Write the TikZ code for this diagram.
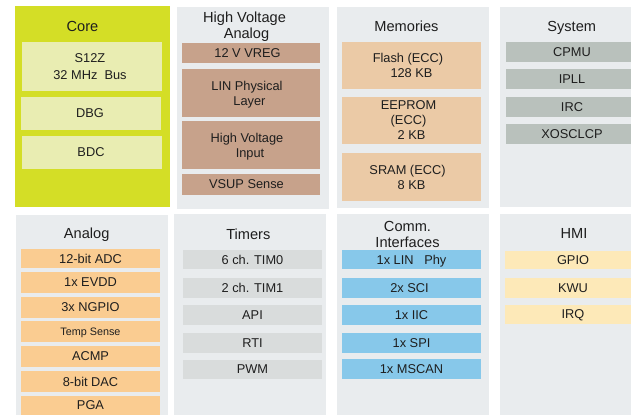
\documentclass[tikz,border=0pt]{standalone}
\usepackage{fontspec}
\setmainfont{Liberation Sans}
\definecolor{limec}{HTML}{D4DE26}
\definecolor{limebox}{HTML}{E9EDB2}
\definecolor{panelg}{HTML}{E9ECEE}
\definecolor{hvbox}{HTML}{C7A28B}
\definecolor{membox}{HTML}{EBCAA6}
\definecolor{sysbox}{HTML}{B9C1BC}
\definecolor{anabox}{HTML}{FACC91}
\definecolor{timbox}{HTML}{D9DCDC}
\definecolor{combox}{HTML}{87C8EA}
\definecolor{hmibox}{HTML}{FDE9B8}
\definecolor{txt}{HTML}{1E1E1E}
\newcommand\bx[7]{\node[#6,minimum width=#4pt-#2pt,minimum height=#5pt-#3pt] (#1) at ({(#2+#4)/2},{(#3+#5)/2}) {#7};}
\newcommand\lft[2]{\mbox{#2\hspace{#1pt}}}
\begin{document}
\begin{tikzpicture}[x=1pt,y=-1pt,
  every node/.style={inner sep=0pt,outer sep=0pt,text=txt,align=center,text depth=0pt},
  panel/.style={fill=panelg,draw=none},
  corepanel/.style={fill=limec,draw=none},
  ttl/.style={font=\fontsize{14.6}{16}\selectfont},
  btxt/.style={font=\fontsize{12.8}{15}\selectfont},
  corebox/.style={btxt,fill=limebox},
  hvb/.style={btxt,fill=hvbox},
  memb/.style={btxt,fill=membox},
  sysb/.style={btxt,fill=sysbox},
  anab/.style={btxt,fill=anabox},
  timb/.style={btxt,fill=timbox},
  comb/.style={btxt,fill=combox},
  hmib/.style={btxt,fill=hmibox}]
\useasboundingbox (0,0) rectangle (631,415);
\fill[white] (0,0) rectangle (631,415);
% panels
\bx{pcore}{15}{6}{170}{207}{corepanel}{}
\bx{phv}{177}{7}{329}{209}{panel}{}
\bx{pmem}{337}{7}{489}{208}{panel}{}
\bx{psys}{500}{7}{645}{207}{panel}{}
\bx{pana}{16}{215}{168}{415}{panel}{}
\bx{ptim}{174}{214}{326}{415}{panel}{}
\bx{pcom}{337}{214}{489}{415}{panel}{}
\bx{phmi}{500}{214}{645}{415}{panel}{}
% titles
\node[ttl] (tcore) at (82.5,26) {Core};
\node[ttl] (thv) at (246.5,25) {\lft{4}{High Voltage}\\Analog};
\node[ttl] (tmem) at (406.5,26) {Memories};
\node[ttl] (tsys) at (571.7,26) {System};
\node[ttl] (tana) at (86.7,233) {Analog};
\node[ttl] (ttim) at (248.3,234) {Timers};
\node[ttl] (tcom) at (407.5,234) {Comm.\\Interfaces};
\node[ttl] (thmi) at (574,233) {HMI};
% core
\bx{s12z}{22}{42}{162}{91}{corebox}{\lft{4}{S12Z}\\[2pt]\lft{4}{32 MHz\ \ Bus}}
\bx{dbg}{21}{97}{161}{130}{corebox}{\lft{2}{DBG}}
\bx{bdc}{22}{136}{162}{169}{corebox}{\lft{2}{BDC}}
% high voltage analog
\bx{vreg}{182}{43}{320}{63}{hvb}{\lft{7}{12 V VREG}}
\bx{linpl}{182}{69}{320}{117}{hvb}{\lft{8}{LIN Physical}\\\lft{3}{Layer}}
\bx{hvin}{182}{121}{320}{169}{hvb}{\lft{8}{High Voltage}\\\lft{2}{Input}}
\bx{vsup}{182}{174}{320}{195}{hvb}{\lft{9}{VSUP Sense}}
% memories
\bx{flash}{342}{42}{481}{89}{memb}{\lft{7}{Flash (ECC)}\\128 KB}
\bx{eeprom}{342}{97}{481}{144}{memb}{\lft{6}{EEPROM}\\\lft{6}{(ECC)}\\2 KB}
\bx{sram}{342}{153}{481}{201}{memb}{\lft{8}{SRAM (ECC)}\\8 KB}
% system
\bx{cpmu}{506}{42}{638}{62}{sysb}{CPMU}
\bx{ipll}{506}{69}{638}{89}{sysb}{IPLL}
\bx{irc}{506}{97}{638}{117}{sysb}{IRC}
\bx{xosc}{506}{124}{638}{144}{sysb}{XOSCLCP}
% analog
\bx{adc}{21}{249}{160}{268}{anab}{12-bit ADC}
\bx{evdd}{21}{272}{160}{293}{anab}{1x EVDD}
\bx{ngpio}{21}{297}{160}{318}{anab}{3x NGPIO}
\bx{temp}{21}{321}{160}{342}{anab,font=\fontsize{10.8}{13}\selectfont}{Temp Sense}
\bx{acmp}{21}{346}{160}{367}{anab}{ACMP}
\bx{dac}{21}{371}{160}{392}{anab}{8-bit DAC}
\bx{pga}{21}{396}{160}{415}{anab}{PGA}
% timers
\bx{tim0}{183}{250}{322}{269}{timb}{6 ch. TIM0}
\bx{tim1}{183}{278}{322}{298}{timb}{2 ch. TIM1}
\bx{api}{183}{305}{322}{325}{timb}{API}
\bx{rti}{183}{333}{322}{353}{timb}{RTI}
\bx{pwm}{183}{360}{322}{379}{timb}{PWM}
% comm
\bx{lin}{342}{250}{481}{269}{comb}{1x LIN\ \ \ Phy}
\bx{sci}{342}{278}{481}{298}{comb}{\lft{4}{2x SCI}}
\bx{iic}{342}{305}{481}{325}{comb}{1x IIC}
\bx{spi}{342}{333}{481}{353}{comb}{1x SPI}
\bx{mscan}{342}{359}{481}{379}{comb}{1x MSCAN}
% hmi
\bx{gpio}{505}{251}{641}{269}{hmib}{GPIO}
\bx{kwu}{505}{278}{641}{298}{hmib}{KWU}
\bx{irq}{505}{305}{641}{324}{hmib}{IRQ}
\end{tikzpicture}
\end{document}
